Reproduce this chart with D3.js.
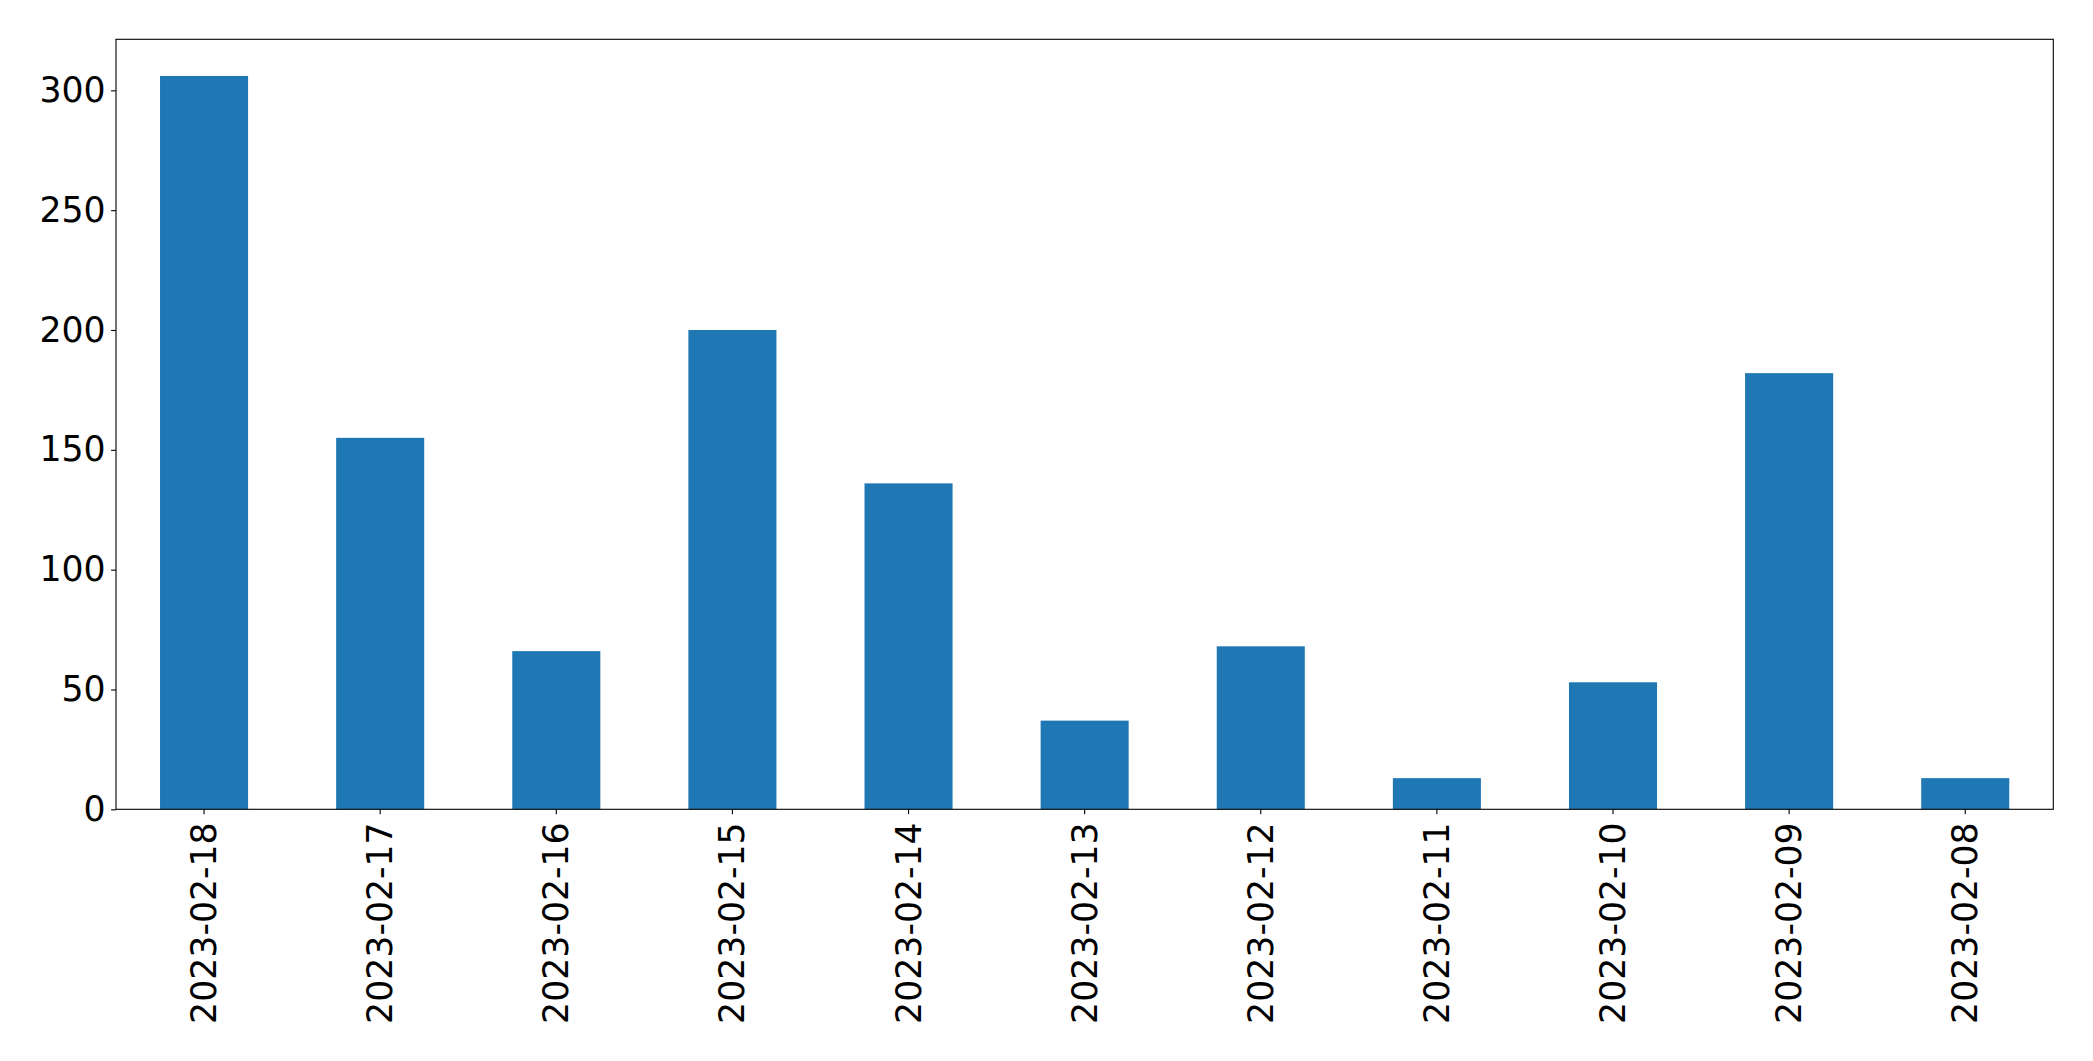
<!DOCTYPE html>
<html>
<head>
<meta charset="utf-8">
<script src="https://cdn.jsdelivr.net/npm/d3@7"></script>
<style>
  html, body { margin: 0; padding: 0; background: #fff; }
  svg { display: block; }
</style>
</head>
<body>
<svg id="chart" width="2093" height="1061"></svg>
<script>
const categories = ["2023-02-18","2023-02-17","2023-02-16","2023-02-15","2023-02-14","2023-02-13","2023-02-12","2023-02-11","2023-02-10","2023-02-09","2023-02-08"];
const values = [306, 155, 66, 200, 136, 37, 68, 13, 53, 182, 13];
const yTicks = [0, 50, 100, 150, 200, 250, 300];

const W = 2093, H = 1061;
const margin = {left: 116, right: 2093 - 2053.3, top: 39.3, bottom: 1061 - 809.3};
const svg = d3.select("#chart");
const innerW = W - margin.left - margin.right;
const innerH = H - margin.top - margin.bottom;
const g = svg.append("g").attr("transform", `translate(${margin.left},${margin.top})`);

const x = d3.scaleBand().domain(categories).range([0, innerW]).paddingInner(0.5).paddingOuter(0.25);
const yMax = d3.max(values) * 1.05;
const y = d3.scaleLinear().domain([0, yMax]).range([innerH, 0]);

const font = "'DejaVu Sans', sans-serif";
const fs = 34.7;

g.selectAll("rect.bar").data(values).join("rect")
  .attr("class", "bar")
  .attr("x", (d, i) => x(categories[i]))
  .attr("width", x.bandwidth())
  .attr("y", d => y(d))
  .attr("height", d => innerH - y(d))
  .attr("fill", "#1f77b4");

// Y axis
const yAxis = d3.axisLeft(y).tickValues(yTicks).tickSize(4.9).tickPadding(5.5).tickFormat(d3.format("d"));
const ya = g.append("g").call(yAxis);
ya.select(".domain").remove();
ya.selectAll("line").attr("stroke", "#000").attr("stroke-width", 1.1);
ya.selectAll("text").attr("font-family", font).attr("font-size", fs).attr("fill", "#000");

// X axis
const xAxis = d3.axisBottom(x).tickSize(4.9).tickPadding(0);
const xa = g.append("g").attr("transform", `translate(0,${innerH})`).call(xAxis);
xa.select(".domain").remove();
xa.selectAll("line").attr("stroke", "#000").attr("stroke-width", 1.1);
xa.selectAll("text")
  .attr("font-family", font).attr("font-size", fs).attr("fill", "#000")
  .attr("y", null).attr("dy", null)
  .attr("text-anchor", "end")
  .attr("dominant-baseline", "central")
  .attr("transform", "translate(0,13) rotate(-90)");

// Frame
g.append("rect").attr("x", 0).attr("y", 0).attr("width", innerW).attr("height", innerH)
  .attr("fill", "none").attr("stroke", "#000").attr("stroke-width", 1.1);
</script>
</body>
</html>
